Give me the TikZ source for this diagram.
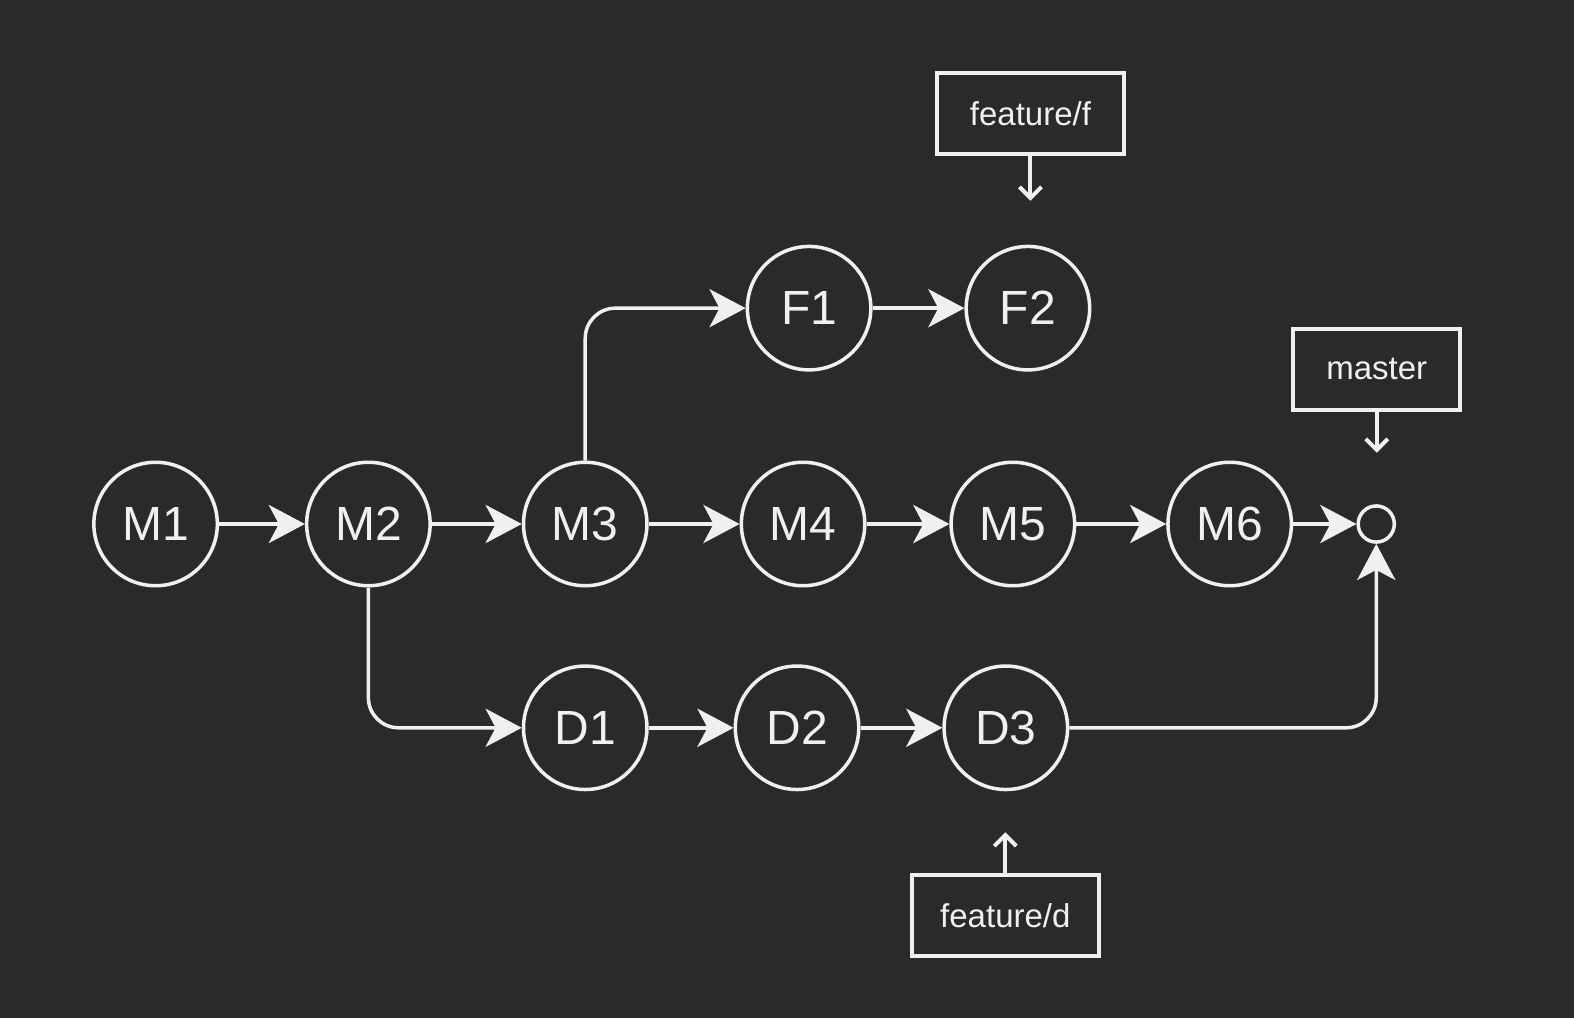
\documentclass[tikz,border=0pt]{standalone}
\usepackage{fontspec}
\setmainfont{Liberation Sans}
\usetikzlibrary{arrows.meta}
\definecolor{bg}{HTML}{2A2A2A}
\definecolor{fg}{HTML}{F0F0F0}
\begin{document}
\begin{tikzpicture}[x=1bp,y=-1bp,
  commit/.style={circle, draw=fg, line width=3.5bp, minimum size=123bp, inner sep=0pt, text=fg, font=\fontsize{48}{48}\selectfont},
  endpt/.style={circle, draw=fg, line width=3.5bp, minimum size=36bp, inner sep=0pt},
  refbox/.style={rectangle, draw=fg, line width=4bp, minimum width=186bp, minimum height=81bp, inner sep=0pt, text=fg, font=\fontsize{33}{33}\selectfont},
  flow/.style={draw=fg, line width=3.5bp, -{Stealth[length=36bp,width=38bp,inset=10bp]}},
  ptr/.style={draw=fg, line width=4bp, -{Straight Barb[length=11bp,width=22bp]}},
  elbow/.style={rounded corners=30bp}]
\fill[bg] (0,0) rectangle (1568,1014);
\useasboundingbox (0,0) rectangle (1568,1014);
\node[commit] (M1) at (155,522) {M1};
\node[commit] (M2) at (367,522) {M2};
\node[commit] (M3) at (583,522) {M3};
\node[commit] (M4) at (800,522) {M4};
\node[commit] (M5) at (1009,522) {M5};
\node[commit] (M6) at (1225,522) {M6};
\node[endpt] (E) at (1371,522) {};
\node[commit] (F1) at (806,307) {F1};
\node[commit] (F2) at (1024,307) {F2};
\node[commit] (D1) at (583,725) {D1};
\node[commit] (D2) at (794,725) {D2};
\node[commit] (D3) at (1002,725) {D3};
\node[refbox] (ff) at (1026.5,113) {feature/f};
\node[refbox, minimum width=166bp] (ms) at (1371.5,368) {master};
\node[refbox] (fd) at (1001.5,912) {feature/d};
\coordinate (ffp) at (1026.5,200);
\coordinate (msp) at (1371.5,451);
\coordinate (fdp) at (1001.5,829);
\draw[flow] (M1) -- (M2);
\draw[flow] (M2) -- (M3);
\draw[flow] (M3) -- (M4);
\draw[flow] (M4) -- (M5);
\draw[flow] (M5) -- (M6);
\draw[flow] (M6) -- (E);
\draw[flow] (F1) -- (F2);
\draw[flow] (D1) -- (D2);
\draw[flow] (D2) -- (D3);
\draw[flow, elbow] (M3.north) |- (F1.west);
\draw[flow, elbow] (M2.south) |- (D1.west);
\draw[flow, elbow] (D3.east) -| (E.south);
\draw[ptr] (ff.south) -- (ffp);
\draw[ptr] (ms.south) -- (msp);
\draw[ptr] (fd.north) -- (fdp);
\end{tikzpicture}
\end{document}
